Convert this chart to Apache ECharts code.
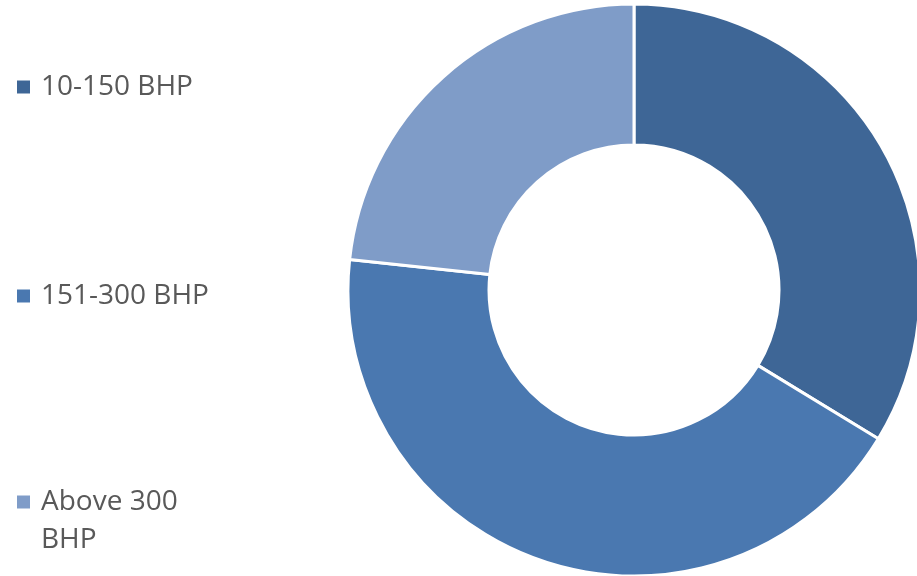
<!DOCTYPE html>
<html>
<head>
<meta charset="utf-8">
<script src="https://cdn.jsdelivr.net/npm/echarts@6/dist/echarts.min.js"></script>
<style>html,body{margin:0;padding:0;background:#fff}#c{width:917px;height:576px}</style>
</head>
<body>
<div id="c"></div>
<script>
const categories = ['10-150 BHP', '151-300 BHP', 'Above 300 BHP'];
const values = [33.7, 43.0, 23.3];
const colors = ['#3E6696', '#4A78B0', '#7F9CC8'];

const chart = echarts.init(document.getElementById('c'));
const font = { fontFamily: 'Open Sans', fontSize: 28, color: '#595959', lineHeight: 38, padding: [0, 0, 0, 6] };
const legendTops = [68, 277, 445];
const legends = categories.map((name, i) => ({
  data: [name],
  orient: 'vertical',
  left: 17,
  top: legendTops[i],
  icon: 'rect',
  itemWidth: 13,
  itemHeight: 13,
  padding: 0,
  selectedMode: false,
  itemStyle: { borderWidth: 0 },
  formatter: n => n === 'Above 300 BHP' ? '\nAbove 300\nBHP' : n,
  textStyle: font
}));

chart.setOption({
  animation: false,
  color: colors,
  legend: legends,
  series: [{
    type: 'pie',
    center: [634, 290],
    radius: [145, 286],
    startAngle: 90,
    clockwise: true,
    label: { show: false },
    labelLine: { show: false },
    itemStyle: { borderColor: '#fff', borderWidth: 3 },
    data: categories.map((c, i) => ({ name: c, value: values[i] }))
  }]
});
</script>
</body>
</html>
